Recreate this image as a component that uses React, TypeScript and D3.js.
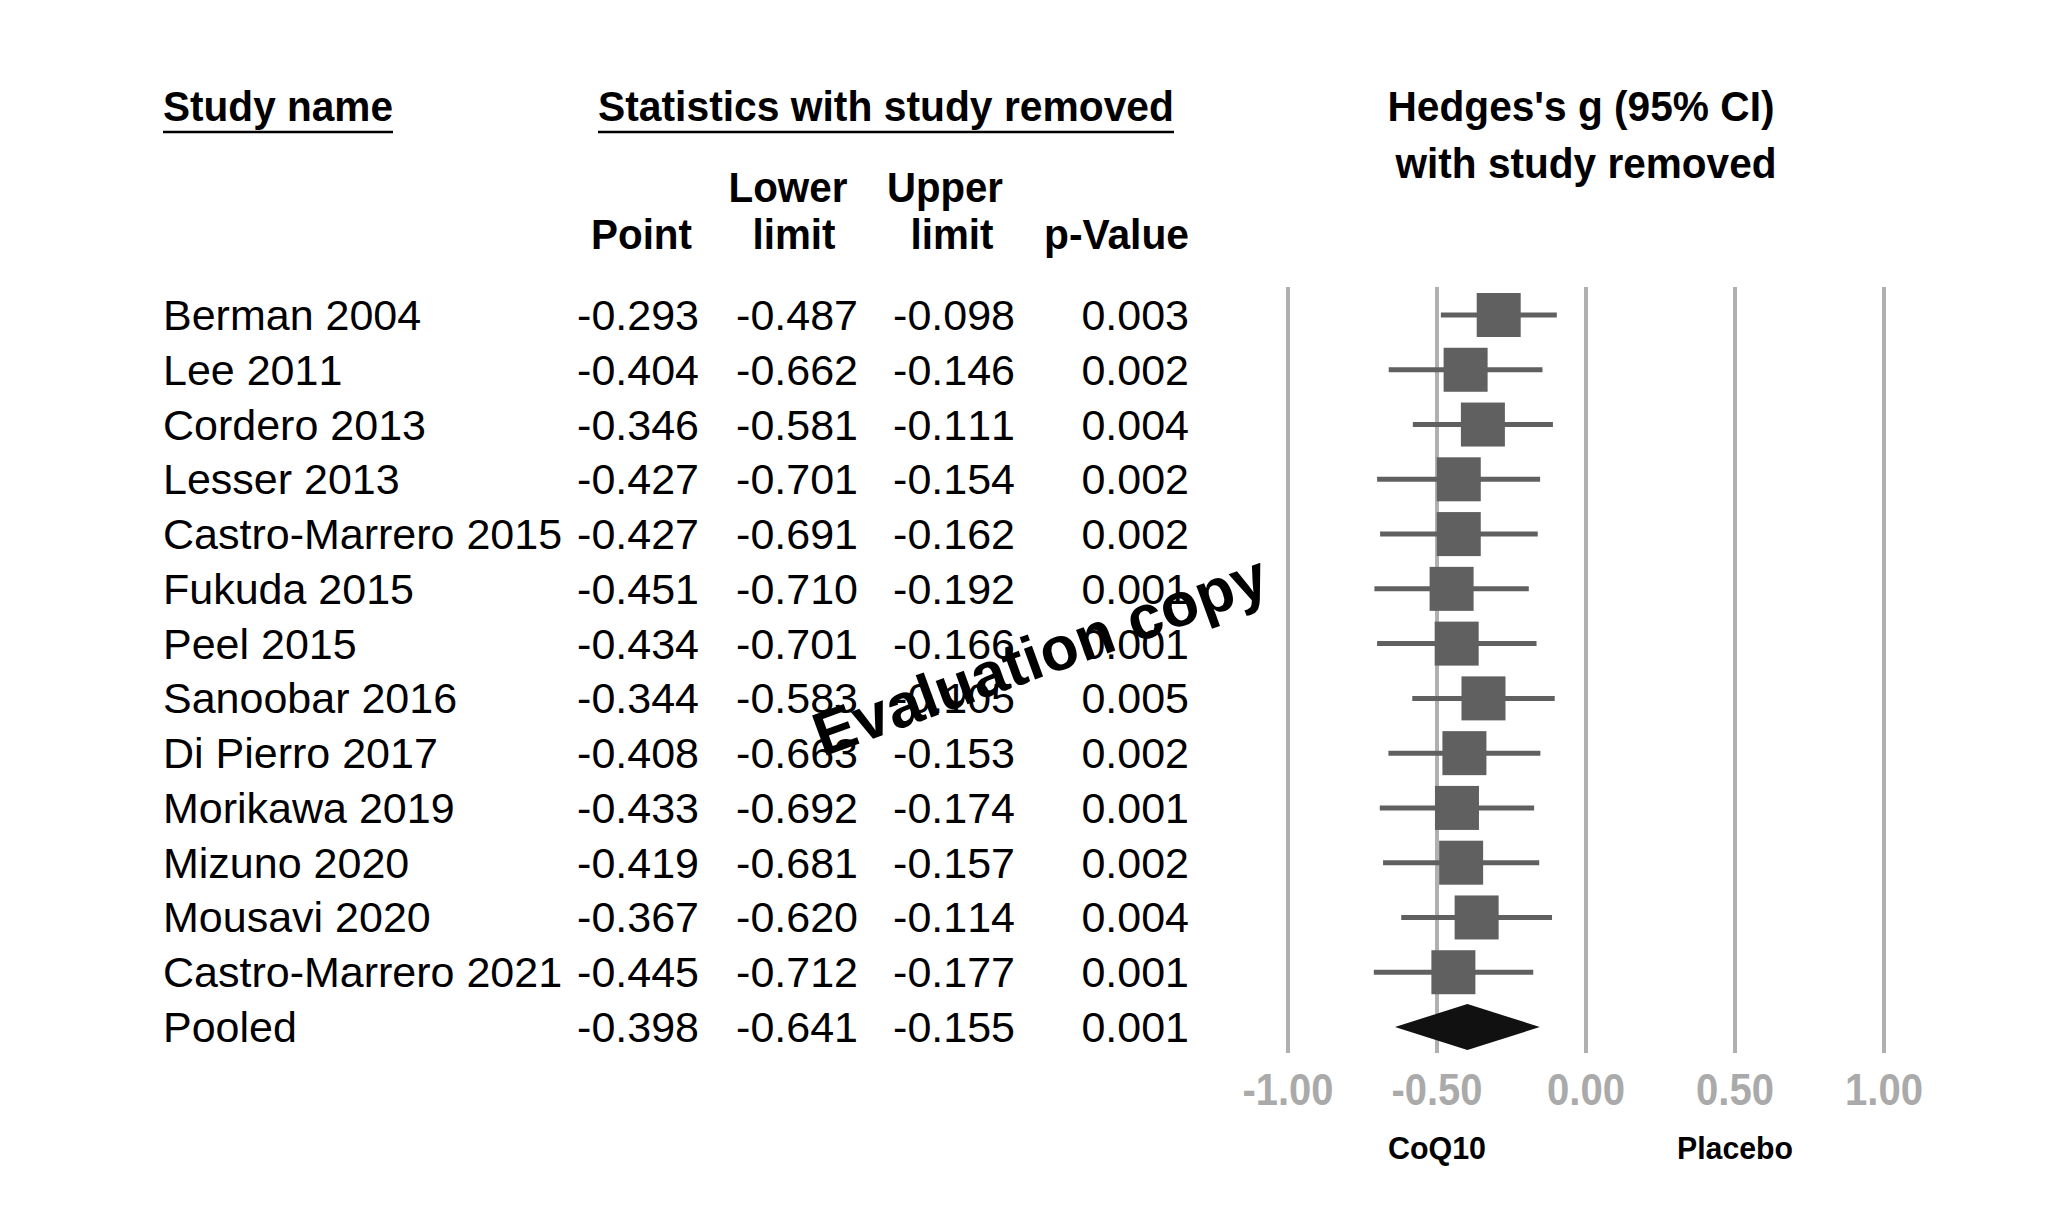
import { useEffect, useRef } from "react";
import * as d3 from "d3";

const studies = [
  "Berman 2004", "Lee 2011", "Cordero 2013", "Lesser 2013", "Castro-Marrero 2015",
  "Fukuda 2015", "Peel 2015", "Sanoobar 2016", "Di Pierro 2017", "Morikawa 2019",
  "Mizuno 2020", "Mousavi 2020", "Castro-Marrero 2021", "Pooled",
];
const points = [-0.293, -0.404, -0.346, -0.427, -0.427, -0.451, -0.434, -0.344, -0.408, -0.433, -0.419, -0.367, -0.445, -0.398];
const lowers = [-0.487, -0.662, -0.581, -0.701, -0.691, -0.710, -0.701, -0.583, -0.663, -0.692, -0.681, -0.620, -0.712, -0.641];
const uppers = [-0.098, -0.146, -0.111, -0.154, -0.162, -0.192, -0.166, -0.105, -0.153, -0.174, -0.157, -0.114, -0.177, -0.155];
const pValues = [0.003, 0.002, 0.004, 0.002, 0.002, 0.001, 0.001, 0.005, 0.002, 0.001, 0.002, 0.004, 0.001, 0.001];
const xTicks = [-1, -0.5, 0, 0.5, 1];

const SANS = "'Liberation Sans', Arial, sans-serif";
const NARROW = "'Liberation Sans Narrow', 'Arial Narrow', 'Liberation Sans', Arial, sans-serif";

export default function App() {
  const svgRef = useRef<SVGSVGElement | null>(null);

  useEffect(() => {
    const width = 2048;
    const height = 1229;
    const svg = d3.select(svgRef.current).attr("width", width).attr("height", height);
    svg.selectAll("*").remove();

    const x = d3.scaleLinear().domain([-1, 1]).range([1288, 1884]);
    const y = d3
      .scalePoint<number>()
      .domain(d3.range(studies.length))
      .range([315, 1027]);

    const bold = (sel: any) => sel.attr("font-family", NARROW).attr("font-weight", "bold").attr("font-size", 42).attr("fill", "#000");

    // headers
    const header = (txt: string, px: number, py: number, len: number, anchor = "start") =>
      svg.append("text").text(txt).attr("x", px).attr("y", py).attr("text-anchor", anchor)
        .attr("textLength", len).attr("lengthAdjust", "spacingAndGlyphs").call(bold);

    header("Study name", 163, 121, 230);
    svg.append("line").attr("x1", 163).attr("x2", 393).attr("y1", 132).attr("y2", 132).attr("stroke", "#000").attr("stroke-width", 2.5);
    header("Statistics with study removed", 598, 121, 576);
    svg.append("line").attr("x1", 598).attr("x2", 1174).attr("y1", 132).attr("y2", 132).attr("stroke", "#000").attr("stroke-width", 2.5);
    header("Hedges's g (95% CI)", 1581, 121, 387, "middle");
    header("with study removed", 1586, 178, 381, "middle");
    header("Lower", 788, 202, 119, "middle");
    header("Upper", 945, 202, 116, "middle");
    header("Point", 692, 249, 101, "end");
    header("limit", 794, 249, 83, "middle");
    header("limit", 952, 249, 83, "middle");
    header("p-Value", 1189, 249, 145, "end");

    // table
    const rows = svg.append("g").attr("font-family", SANS).attr("font-size", 43).attr("fill", "#000")
      .style("font-kerning", "none");
    const cols: { vals: (i: number) => string; x: number; anchor: string }[] = [
      { vals: (i) => studies[i], x: 163, anchor: "start" },
      { vals: (i) => points[i].toFixed(3), x: 699, anchor: "end" },
      { vals: (i) => lowers[i].toFixed(3), x: 858, anchor: "end" },
      { vals: (i) => uppers[i].toFixed(3), x: 1015, anchor: "end" },
      { vals: (i) => pValues[i].toFixed(3), x: 1189, anchor: "end" },
    ];
    cols.forEach((c) => {
      rows.append("g").selectAll("text").data(d3.range(studies.length)).join("text")
        .attr("x", c.x).attr("y", (i) => y(i)! + 15).attr("text-anchor", c.anchor)
        .text((i) => c.vals(i));
    });

    // grid lines
    svg.append("g").selectAll("line").data(xTicks).join("line")
      .attr("x1", (d) => x(d)).attr("x2", (d) => x(d))
      .attr("y1", 287).attr("y2", 1053)
      .attr("stroke", "#b0b0b0").attr("stroke-width", 4);

    // axis labels
    svg.append("g").selectAll("text").data(xTicks).join("text")
      .attr("x", (d) => x(d)).attr("y", 1105).attr("text-anchor", "middle")
      .attr("font-family", NARROW).attr("font-weight", "bold").attr("font-size", 44).attr("fill", "#aaaaaa")
      .attr("textLength", (d) => (d < 0 ? 91 : 78)).attr("lengthAdjust", "spacingAndGlyphs")
      .text((d) => d.toFixed(2));

    svg.append("text").text("CoQ10").attr("x", x(-0.5)).attr("y", 1159).attr("text-anchor", "middle")
      .attr("font-family", NARROW).attr("font-weight", "bold").attr("font-size", 32)
      .attr("textLength", 98).attr("lengthAdjust", "spacingAndGlyphs");
    svg.append("text").text("Placebo").attr("x", x(0.5)).attr("y", 1159).attr("text-anchor", "middle")
      .attr("font-family", NARROW).attr("font-weight", "bold").attr("font-size", 32)
      .attr("textLength", 116).attr("lengthAdjust", "spacingAndGlyphs");

    // studies
    const n = studies.length - 1;
    const idx = d3.range(n);
    const box = 44;
    const marks = svg.append("g").attr("fill", "#606060").attr("stroke", "#606060");
    marks.selectAll("line").data(idx).join("line")
      .attr("x1", (i) => x(lowers[i])).attr("x2", (i) => x(uppers[i]))
      .attr("y1", (i) => y(i)!).attr("y2", (i) => y(i)!)
      .attr("stroke-width", 5);
    marks.selectAll("rect").data(idx).join("rect")
      .attr("x", (i) => x(points[i]) - box / 2).attr("y", (i) => y(i)! - box / 2)
      .attr("width", box).attr("height", box).attr("stroke", "none");

    // pooled diamond
    const py = y(n)!;
    const diamond = [
      [x(lowers[n]), py], [x(points[n]), py - 23], [x(uppers[n]), py], [x(points[n]), py + 23],
    ];
    svg.append("path").attr("d", d3.line()(diamond as [number, number][]) + "Z").attr("fill", "#111");

    // watermark
    svg.append("text").text("Evaluation copy")
      .attr("transform", "translate(1040,655) rotate(-20)")
      .attr("text-anchor", "middle").attr("dominant-baseline", "central")
      .attr("font-family", SANS).attr("font-weight", "bold").attr("font-size", 62)
      .attr("textLength", 478).attr("lengthAdjust", "spacingAndGlyphs")
      .attr("fill", "#000");
  }, []);

  return (
    <svg ref={svgRef} style={{ position: "absolute", left: 0, top: 0, background: "#fff" }}></svg>
  );
}
